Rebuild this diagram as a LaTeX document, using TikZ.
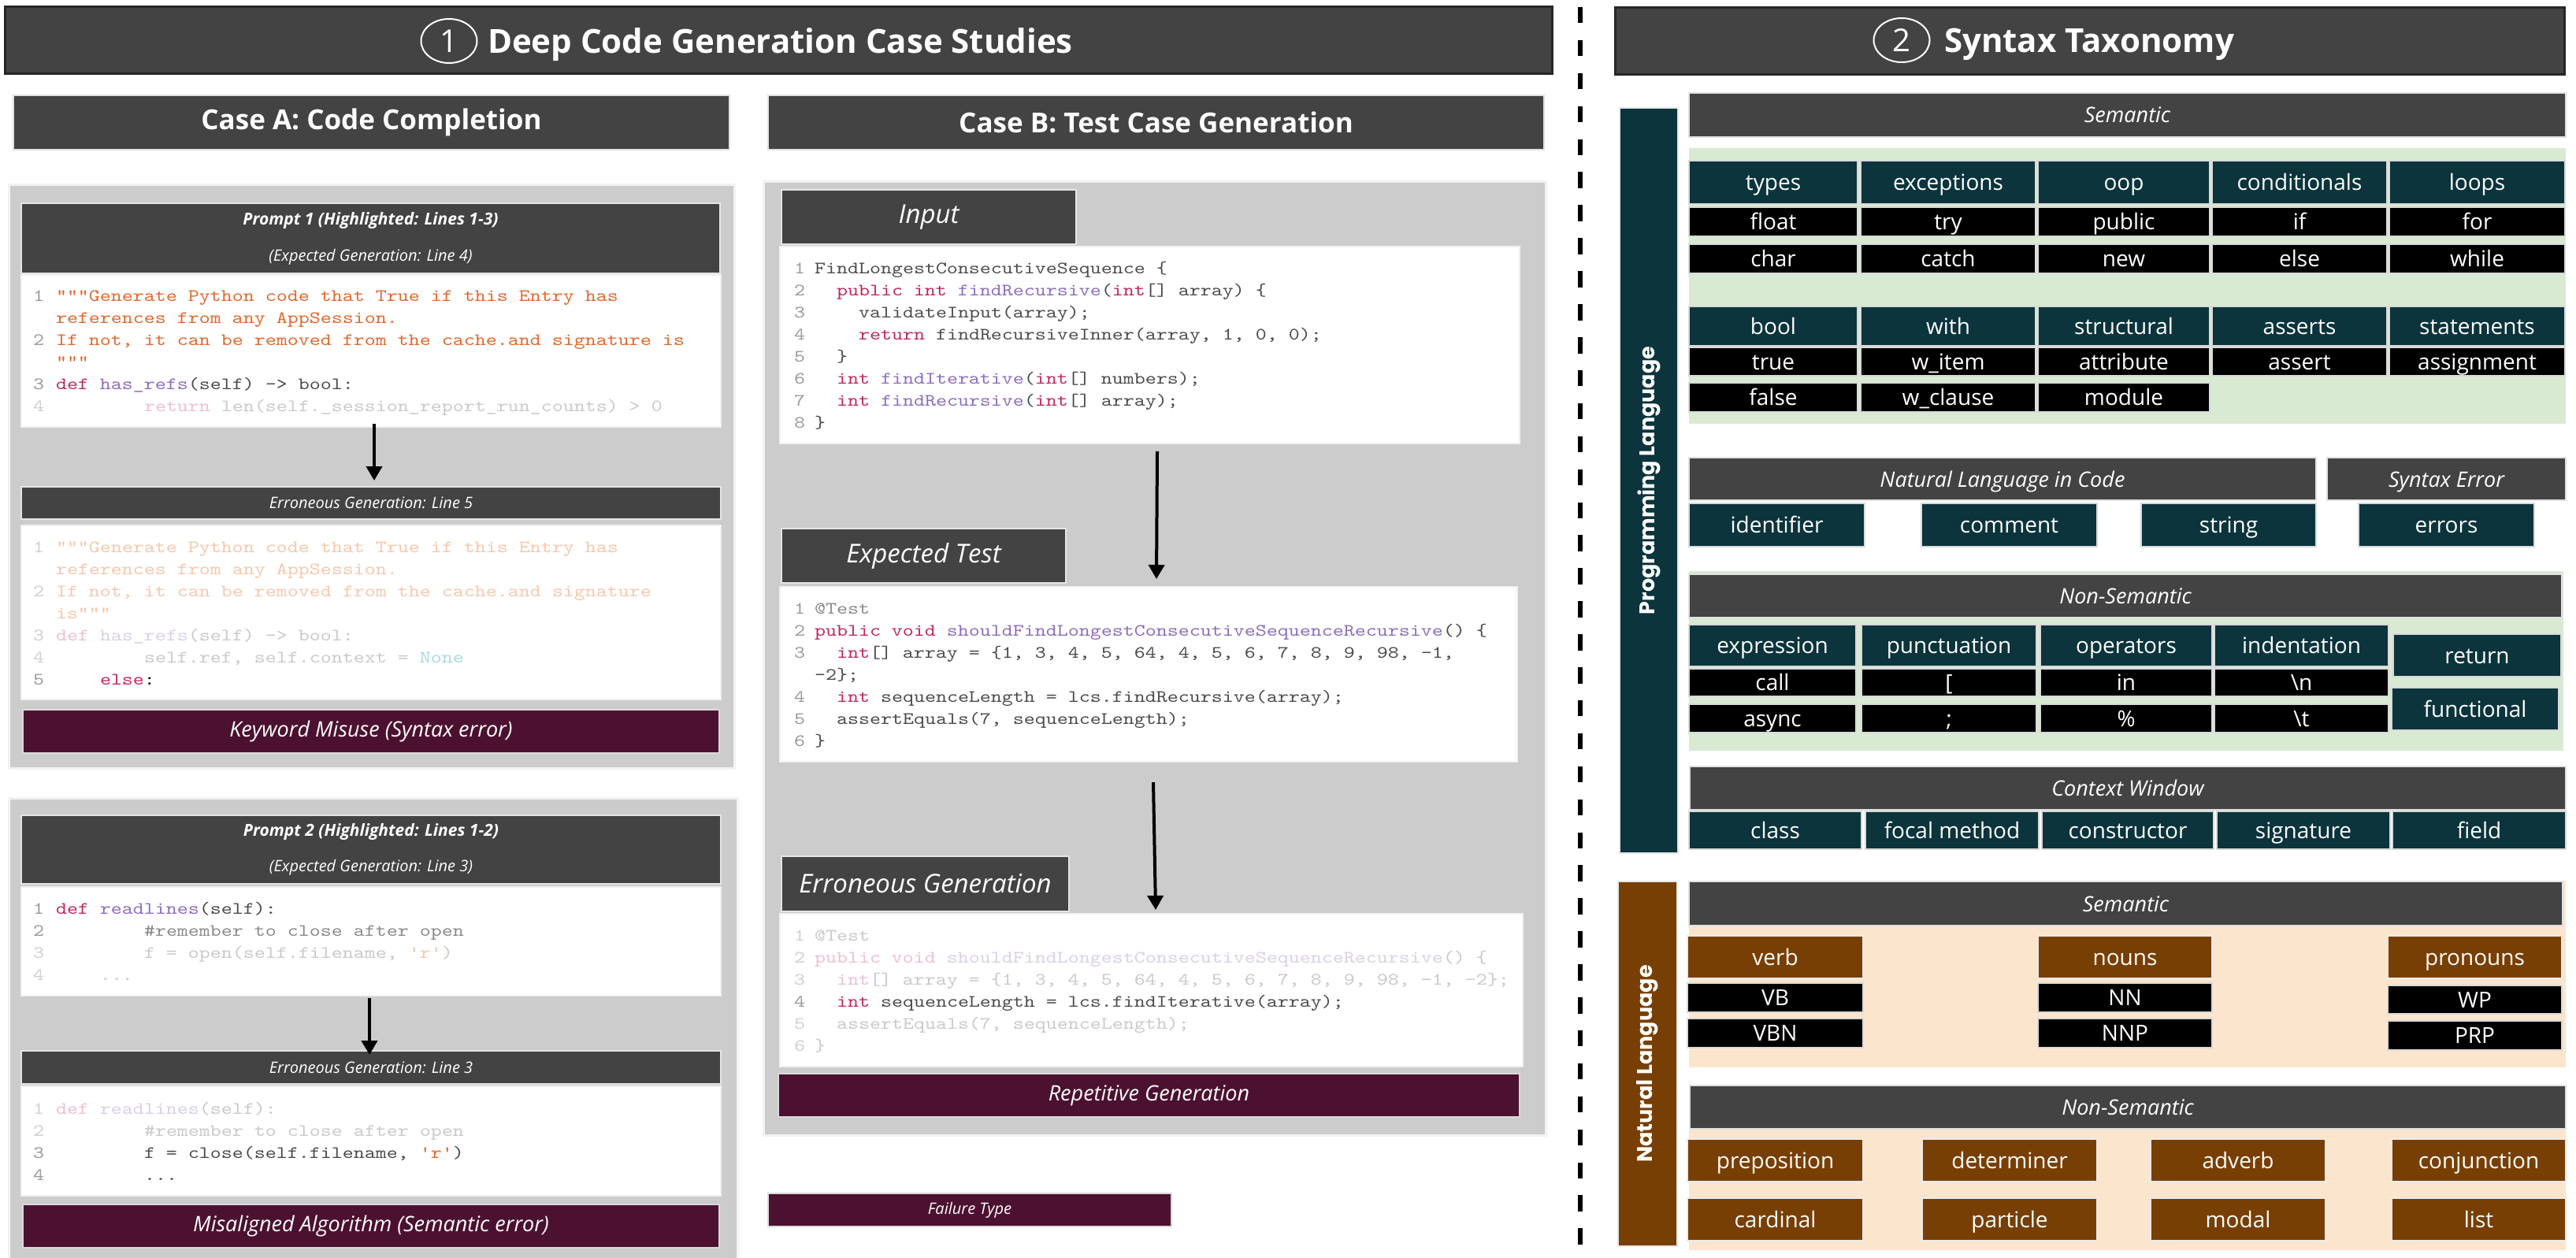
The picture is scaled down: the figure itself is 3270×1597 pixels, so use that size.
\documentclass[tikz,border=0pt]{standalone}
\usepackage{fontspec}
\setmainfont{Open Sans}
\newfontfamily\popfont{Poppins}
\newfontfamily\codefont[FakeStretch=1.212]{lmmono10-regular.otf}
\usetikzlibrary{arrows.meta,shapes.geometric}
\definecolor{hdrgray}{HTML}{434343}
\definecolor{panelgray}{HTML}{CCCCCC}
\definecolor{failred}{HTML}{4C1130}
\definecolor{tealc}{HTML}{0C343D}
\definecolor{brownc}{HTML}{783F04}
\definecolor{greenbg}{HTML}{D9EAD3}
\definecolor{peachbg}{HTML}{FCE5CD}
\definecolor{ckw}{HTML}{C2255C}
\definecolor{cfn}{HTML}{8C6BBF}
\definecolor{ctx}{HTML}{4A4A4A}
\definecolor{cstr}{HTML}{E2672B}
\definecolor{cln}{HTML}{9A9A9A}
\definecolor{ccm}{HTML}{8A8A8A}
\definecolor{fkw}{HTML}{EDBFD0}
\definecolor{ffn}{HTML}{D9CFEA}
\definecolor{ftx}{HTML}{C9C9C9}
\definecolor{fstr}{HTML}{F6C7AB}
\definecolor{fln}{HTML}{D0D0D0}
\definecolor{fnone}{HTML}{A8D8EA}
\newcommand\mkbox[7]{\node[#6,anchor=north west,minimum width={#4pt-#2pt},minimum height={#5pt-#3pt}] (#1) at (#2,#3) {#7};}
\newcommand\codeln[4]{\node[codetxt] (#1) at (#2,#3) {#4};}
\newcommand\Ck[1]{\textcolor{ckw}{#1}}
\newcommand\Cf[1]{\textcolor{cfn}{#1}}
\newcommand\Ct[1]{\textcolor{ctx}{#1}}
\newcommand\Cs[1]{\textcolor{cstr}{#1}}
\newcommand\Cc[1]{\textcolor{ccm}{#1}}
\newcommand\Fk[1]{\textcolor{fkw}{#1}}
\newcommand\Ff[1]{\textcolor{ffn}{#1}}
\newcommand\Ft[1]{\textcolor{ftx}{#1}}
\newcommand\Fs[1]{\textcolor{fstr}{#1}}
\begin{document}
\begin{tikzpicture}[x=1pt,y=-1pt,
  every node/.style={inner sep=0pt,outer sep=0pt},
  mainhdr/.style={fill=hdrgray,draw=black!85,line width=3pt},
  circ/.style={ellipse,draw=white,line width=2pt,minimum width=71pt,minimum height=56pt,text=white,font=\fontsize{40}{48}\selectfont},
  ttl/.style={anchor=base west,text=white,font=\fontsize{42}{50}\selectfont\bfseries},
  subhdr/.style={fill=hdrgray,draw=black!12,line width=2pt,text=white,font=\fontsize{35}{42}\selectfont\bfseries},
  panel/.style={fill=panelgray,draw=black!5,line width=3pt},
  hdr/.style={fill=hdrgray,draw=black!10,line width=1.5pt,text=white,font=\fontsize{20}{24}\selectfont\itshape},
  bighdr/.style={hdr,font=\fontsize{33}{40}\selectfont\itshape},
  codebox/.style={fill=white,draw=black!6,line width=1.5pt},
  fail/.style={fill=failred,draw=black!15,line width=1.5pt,text=white,font=\fontsize{27}{32}\selectfont\itshape},
  codetxt/.style={anchor=base west,inner sep=0pt,font=\codefont\fontsize{22}{26}\selectfont},
  arr/.style={line width=4pt,-{Triangle[length=18pt,width=20pt]}},
  dashline/.style={line width=6pt,dash pattern=on 20.5pt off 21.4pt},
  hdrtwo/.style={fill=hdrgray,draw=black!12,line width=1.5pt,text=white,font=\fontsize{27}{32}\selectfont\itshape,text height=26pt,text depth=6pt},
  lab/.style={text=white,font=\fontsize{28}{32}\selectfont,text height=26pt,text depth=6pt},
  teal/.style={lab,fill=tealc,draw=black!15,line width=1.5pt},
  blk/.style={lab,fill=black,draw=black!15,line width=1.5pt},
  brn/.style={lab,fill=brownc,draw=black!8,line width=1.5pt},
  gbg/.style={fill=greenbg},
  pbg/.style={fill=peachbg},
  vbar/.style={draw=black!10,line width=1.5pt},
  vtext/.style={rotate=90,text=white,font=\popfont\bfseries\fontsize{27}{32}\selectfont}
]
\useasboundingbox (0,0) rectangle (3270,1597);
\fill[white] (0,0) rectangle (3270,1597);

% ===== Titles =====
\mkbox{mh1}{6}{9}{1970}{94}{mainhdr}{}
\node[circ] (c1) at (570,52) {1};
\node[ttl] (t1) at (619,68) {Deep Code Generation Case Studies};
\mkbox{mh2}{2050}{10}{3255}{95}{mainhdr}{}
\node[circ] (c2) at (2414,51) {2};
\node[ttl] (t2) at (2468,67) {Syntax Taxonomy};

\coordinate (dtop) at (2006,9);
\coordinate (dbot) at (2006,1597);
\draw[dashline] (dtop) -- (dbot);

% ===== Case A =====
\mkbox{hA}{17}{121}{926}{190}{subhdr}{Case A: Code Completion}
\mkbox{pA1}{11}{235}{932}{975}{panel}{}
\mkbox{ph1}{27}{258}{914}{347}{hdr,align=center,font=\fontsize{20}{46}\selectfont\itshape}{{\bfseries\fontsize{21}{46}\selectfont Prompt 1 (Highlighted: Lines 1-3)}\\(Expected Generation: Line 4)}
\mkbox{cb1}{27}{349}{915}{542}{codebox}{}
\codeln{a1n}{42}{382}{\textcolor{cln}{1}}
\codeln{a1}{71}{382}{\Cs{"""Generate Python code that True if this Entry has}}
\codeln{a1c}{71}{410}{\Cs{references from any AppSession.}}
\codeln{a2n}{42}{438}{\textcolor{cln}{2}}
\codeln{a2}{71}{438}{\Cs{If not, it can be removed from the cache.and signature is}}
\codeln{a2c}{71}{466}{\Cs{"""}}
\codeln{a3n}{42}{494}{\textcolor{cln}{3}}
\codeln{a3}{71}{494}{\Ck{def} \Cf{has\_refs}\Ct{(self) -> bool:}}
\codeln{a4n}{42}{522}{\textcolor{fln}{4}}
\codeln{a4}{183}{522}{\Fk{return} \Ft{len(self.\_session\_report\_run\_counts) > 0}}
\mkbox{eh1}{27}{618}{915}{659}{hdr}{Erroneous Generation: Line 5}
\draw[arr] ([xshift=4pt,yshift=4pt]cb1.south) -- ([xshift=4pt,yshift=8pt]eh1.north);
\mkbox{cb2}{27}{667}{915}{888}{codebox}{}
\codeln{b1n}{42}{701}{\textcolor{fln}{1}}
\codeln{b1}{71}{701}{\Fs{"""Generate Python code that True if this Entry has}}
\codeln{b1c}{71}{729}{\Fs{references from any AppSession.}}
\codeln{b2n}{42}{757}{\textcolor{fln}{2}}
\codeln{b2}{71}{757}{\Fs{If not, it can be removed from the cache.and signature}}
\codeln{b2c}{71}{785}{\Fs{is"""}}
\codeln{b3n}{42}{813}{\textcolor{fln}{3}}
\codeln{b3}{71}{813}{\Fk{def} \Ff{has\_refs}\Ft{(self) -> bool:}}
\codeln{b4n}{42}{841}{\textcolor{fln}{4}}
\codeln{b4}{183}{841}{\Ft{self.ref, self.context =} \textcolor{fnone}{None}}
\codeln{b5n}{42}{869}{\textcolor{cln}{5}}
\codeln{b5}{127}{869}{\Ck{else}\textcolor{black}{:}}
\mkbox{fA1}{29}{901}{913}{956}{fail}{Keyword Misuse (Syntax error)}

\mkbox{pA2}{11}{1013}{936}{1605}{panel}{}
\mkbox{ph2}{27}{1035}{915}{1122}{hdr,align=center,font=\fontsize{20}{45}\selectfont\itshape}{{\bfseries\fontsize{21}{45}\selectfont Prompt 2 (Highlighted: Lines 1-2)}\\(Expected Generation: Line 3)}
\mkbox{cb3}{27}{1126}{915}{1264}{codebox}{}
\codeln{c1n}{42}{1160}{\textcolor{cln}{1}}
\codeln{c1}{71}{1160}{\Ck{def} \Cf{readlines}\Ct{(self):}}
\codeln{c2n}{42}{1188}{\textcolor{cln}{2}}
\codeln{c2}{183}{1188}{\Cc{\#remember to close after open}}
\codeln{c3n}{42}{1216}{\textcolor{fln}{3}}
\codeln{c3}{183}{1216}{\Ft{f = open(self.filename,} \Fs{'r'}\Ft{)}}
\codeln{c4n}{42}{1244}{\textcolor{fln}{4}}
\codeln{c4}{127}{1244}{\Ft{...}}
\mkbox{eh2}{27}{1334}{915}{1376}{hdr}{Erroneous Generation: Line 3}
\draw[arr] ([xshift=-2pt,yshift=-3pt]cb3.south) -- ([xshift=-2pt,yshift=-5pt]eh2.north);
\mkbox{cb4}{27}{1379}{915}{1518}{codebox}{}
\codeln{d1n}{42}{1414}{\textcolor{fln}{1}}
\codeln{d1}{71}{1414}{\Fk{def} \Ff{readlines}\Ft{(self):}}
\codeln{d2n}{42}{1442}{\textcolor{fln}{2}}
\codeln{d2}{183}{1442}{\Ft{\#remember to close after open}}
\codeln{d3n}{42}{1470}{\textcolor{cln}{3}}
\codeln{d3}{183}{1470}{\Ct{f = close(self.filename,} \Cs{'r'}\Ct{)}}
\codeln{d4n}{42}{1498}{\textcolor{cln}{4}}
\codeln{d4}{183}{1498}{\Ct{...}}
\mkbox{fA2}{29}{1529}{913}{1584}{fail}{Misaligned Algorithm (Semantic error)}

% ===== Case B =====
\mkbox{hB}{975}{121}{1960}{190}{subhdr}{Case B: Test Case Generation}
\mkbox{pB}{969}{231}{1962}{1441}{panel}{}
\mkbox{ihB}{992}{241}{1366}{310}{bighdr}{Input}
\mkbox{cbI}{990}{313}{1929}{563}{codebox}{}
\codeln{i1n}{1008}{347}{\textcolor{cln}{1}}
\codeln{i1}{1034}{347}{\Ct{FindLongestConsecutiveSequence \{}}
\codeln{i2n}{1008}{375}{\textcolor{cln}{2}}
\codeln{i2}{1062}{375}{\Ck{public int} \Cf{findRecursive}\Ct{(}\Ck{int}\Ct{[] array) \{}}
\codeln{i3n}{1008}{403}{\textcolor{cln}{3}}
\codeln{i3}{1090}{403}{\Ct{validateInput(array);}}
\codeln{i4n}{1008}{431}{\textcolor{cln}{4}}
\codeln{i4}{1090}{431}{\Ck{return} \Ct{findRecursiveInner(array, 1, 0, 0);}}
\codeln{i5n}{1008}{459}{\textcolor{cln}{5}}
\codeln{i5}{1062}{459}{\Ct{\}}}
\codeln{i6n}{1008}{487}{\textcolor{cln}{6}}
\codeln{i6}{1062}{487}{\Ck{int} \Cf{findIterative}\Ct{(}\Ck{int}\Ct{[] numbers);}}
\codeln{i7n}{1008}{515}{\textcolor{cln}{7}}
\codeln{i7}{1062}{515}{\Ck{int} \Cf{findRecursive}\Ct{(}\Ck{int}\Ct{[] array);}}
\codeln{i8n}{1008}{543}{\textcolor{cln}{8}}
\codeln{i8}{1034}{543}{\Ct{\}}}
\mkbox{ehB}{992}{671}{1353}{740}{bighdr}{Expected Test}
\mkbox{cbE}{990}{745}{1926}{967}{codebox}{}
\draw[arr] ([xshift=9.5pt,yshift=-10pt]cbI.south) -- ([xshift=10pt,yshift=10pt]cbE.north);
\codeln{e1n}{1008}{779}{\textcolor{cln}{1}}
\codeln{e1}{1034}{779}{\Cc{@Test}}
\codeln{e2n}{1008}{807}{\textcolor{cln}{2}}
\codeln{e2}{1034}{807}{\Ck{public void} \Cf{shouldFindLongestConsecutiveSequenceRecursive}\Ct{() \{}}
\codeln{e3n}{1008}{835}{\textcolor{cln}{3}}
\codeln{e3}{1062}{835}{\Ck{int}\Ct{[] array = \{1, 3, 4, 5, 64, 4, 5, 6, 7, 8, 9, 98, -1,}}
\codeln{e3c}{1034}{863}{\Ct{-2\};}}
\codeln{e4n}{1008}{891}{\textcolor{cln}{4}}
\codeln{e4}{1062}{891}{\Ck{int} \Ct{sequenceLength = lcs.findRecursive(array);}}
\codeln{e5n}{1008}{919}{\textcolor{cln}{5}}
\codeln{e5}{1062}{919}{\Ct{assertEquals(7, sequenceLength);}}
\codeln{e6n}{1008}{947}{\textcolor{cln}{6}}
\codeln{e6}{1034}{947}{\Ct{\}}}
\mkbox{ghB}{992}{1087}{1357}{1157}{bighdr}{Erroneous Generation}
\mkbox{cbG}{990}{1160}{1933}{1354}{codebox}{}
\draw[arr] ([xshift=6pt,yshift=-26pt]cbE.south) -- ([xshift=5.5pt,yshift=5pt]cbG.north);
\codeln{g1n}{1008}{1194}{\textcolor{fln}{1}}
\codeln{g1}{1034}{1194}{\Ft{@Test}}
\codeln{g2n}{1008}{1222}{\textcolor{fln}{2}}
\codeln{g2}{1034}{1222}{\Fk{public void} \Ff{shouldFindLongestConsecutiveSequenceRecursive}\Ft{() \{}}
\codeln{g3n}{1008}{1250}{\textcolor{fln}{3}}
\codeln{g3}{1062}{1250}{\Fk{int}\Ft{[] array = \{1, 3, 4, 5, 64, 4, 5, 6, 7, 8, 9, 98, -1, -2\};}}
\codeln{g4n}{1008}{1278}{\textcolor{cln}{4}}
\codeln{g4}{1062}{1278}{\Ck{int} \Ct{sequenceLength = lcs.findIterative(array);}}
\codeln{g5n}{1008}{1306}{\textcolor{fln}{5}}
\codeln{g5}{1062}{1306}{\Ft{assertEquals(7, sequenceLength);}}
\codeln{g6n}{1008}{1334}{\textcolor{fln}{6}}
\codeln{g6}{1034}{1334}{\Ft{\}}}
\mkbox{fB}{988}{1363}{1929}{1418}{fail}{Repetitive Generation}
\mkbox{fType}{975}{1515}{1487}{1557}{fail,font=\fontsize{20}{24}\selectfont\itshape}{Failure Type}

% ===== Syntax taxonomy: Programming Language =====
\mkbox{plbar}{2056}{137}{2130}{1083}{vbar,fill=tealc}{}
\node[vtext] (pltext) at (plbar.center) {Programming Language};
\mkbox{semH}{2144}{118}{3257}{174}{hdrtwo}{Semantic}
\mkbox{gA}{2144}{188}{3257}{538}{gbg}{}
\mkbox{s11}{2144}{204}{2358}{259}{teal}{types}
\mkbox{s12}{2362}{204}{2584}{259}{teal}{exceptions}
\mkbox{s13}{2587}{204}{2805}{259}{teal}{oop}
\mkbox{s14}{2808}{204}{3030}{259}{teal}{conditionals}
\mkbox{s15}{3033}{204}{3256}{259}{teal}{loops}
\mkbox{s21}{2144}{263}{2358}{300}{blk}{float}
\mkbox{s22}{2362}{263}{2584}{300}{blk}{try}
\mkbox{s23}{2587}{263}{2805}{300}{blk}{public}
\mkbox{s24}{2808}{263}{3030}{300}{blk}{if}
\mkbox{s25}{3033}{263}{3256}{300}{blk}{for}
\mkbox{s31}{2144}{310}{2358}{347}{blk}{char}
\mkbox{s32}{2362}{310}{2584}{347}{blk}{catch}
\mkbox{s33}{2587}{310}{2805}{347}{blk}{new}
\mkbox{s34}{2808}{310}{3030}{347}{blk}{else}
\mkbox{s35}{3033}{310}{3256}{347}{blk}{while}
\mkbox{s41}{2144}{389}{2358}{439}{teal}{bool}
\mkbox{s42}{2362}{389}{2584}{439}{teal}{with}
\mkbox{s43}{2587}{389}{2805}{439}{teal}{structural}
\mkbox{s44}{2808}{389}{3030}{439}{teal}{asserts}
\mkbox{s45}{3033}{389}{3256}{439}{teal}{statements}
\mkbox{s51}{2144}{441}{2358}{477}{blk}{true}
\mkbox{s52}{2362}{441}{2584}{477}{blk}{w\_item}
\mkbox{s53}{2587}{441}{2805}{477}{blk}{attribute}
\mkbox{s54}{2808}{441}{3030}{477}{blk}{assert}
\mkbox{s55}{3033}{441}{3256}{477}{blk}{assignment}
\mkbox{s61}{2144}{486}{2358}{523}{blk}{false}
\mkbox{s62}{2362}{486}{2584}{523}{blk}{w\_clause}
\mkbox{s63}{2587}{486}{2805}{523}{blk}{module}

\mkbox{nlcH}{2144}{581}{2940}{635}{hdrtwo}{Natural Language in Code}
\mkbox{seH}{2954}{581}{3257}{635}{hdrtwo}{Syntax Error}
\mkbox{n1}{2144}{639}{2367}{694}{teal}{identifier}
\mkbox{n2}{2439}{639}{2662}{694}{teal}{comment}
\mkbox{n3}{2718}{639}{2940}{694}{teal}{string}
\mkbox{n4}{2994}{639}{3217}{694}{teal}{errors}

\mkbox{gB}{2144}{725}{3254}{953}{gbg}{}
\mkbox{nsH}{2144}{729}{3252}{784}{hdrtwo}{Non-Semantic}
\mkbox{x11}{2144}{793}{2356}{846}{teal}{expression}
\mkbox{x12}{2363}{793}{2585}{846}{teal}{punctuation}
\mkbox{x13}{2590}{793}{2808}{846}{teal}{operators}
\mkbox{x14}{2811}{793}{3032}{846}{teal}{indentation}
\mkbox{x21}{2144}{849}{2356}{884}{blk}{call}
\mkbox{x22}{2363}{849}{2585}{884}{blk}{[}
\mkbox{x23}{2590}{849}{2808}{884}{blk}{in}
\mkbox{x24}{2811}{849}{3032}{884}{blk}{\textbackslash n}
\mkbox{x31}{2144}{894}{2356}{930}{blk}{async}
\mkbox{x32}{2363}{894}{2585}{930}{blk}{;}
\mkbox{x33}{2590}{894}{2808}{930}{blk}{\%}
\mkbox{x34}{2811}{894}{3032}{930}{blk}{\textbackslash t}
\mkbox{x15}{3038}{805}{3251}{859}{teal}{return}
\mkbox{x25}{3036}{873}{3248}{927}{teal}{functional}

\mkbox{cwH}{2145}{973}{3257}{1028}{hdrtwo}{Context Window}
\mkbox{w1}{2144}{1030}{2363}{1078}{teal}{class}
\mkbox{w2}{2368}{1030}{2588}{1078}{teal}{focal method}
\mkbox{w3}{2592}{1030}{2810}{1078}{teal}{constructor}
\mkbox{w4}{2814}{1030}{3034}{1078}{teal}{signature}
\mkbox{w5}{3037}{1030}{3257}{1078}{teal}{field}

% ===== Natural Language =====
\mkbox{nlbar}{2054}{1119}{2129}{1582}{vbar,fill=brownc}{}
\node[vtext] (nltext) at (nlbar.center) {Natural Language};
\mkbox{pe1}{2144}{1118}{3257}{1355}{pbg}{}
\mkbox{semH2}{2144}{1119}{3253}{1175}{hdrtwo}{Semantic}
\mkbox{v1}{2142}{1188}{2365}{1242}{brn}{verb}
\mkbox{v2}{2587}{1188}{2808}{1242}{brn}{nouns}
\mkbox{v3}{3031}{1188}{3252}{1242}{brn}{pronouns}
\mkbox{v4}{2142}{1248}{2365}{1285}{blk}{VB}
\mkbox{v5}{2587}{1248}{2808}{1285}{blk}{NN}
\mkbox{v6}{3031}{1251}{3252}{1287}{blk}{WP}
\mkbox{v7}{2142}{1293}{2365}{1330}{blk}{VBN}
\mkbox{v8}{2587}{1293}{2808}{1330}{blk}{NNP}
\mkbox{v9}{3031}{1296}{3252}{1333}{blk}{PRP}
\mkbox{pe2}{2144}{1377}{3257}{1587}{pbg}{}
\mkbox{nsH2}{2145}{1378}{3257}{1433}{hdrtwo}{Non-Semantic}
\mkbox{q1}{2142}{1446}{2365}{1500}{brn}{preposition}
\mkbox{q2}{2440}{1446}{2662}{1500}{brn}{determiner}
\mkbox{q3}{2730}{1446}{2952}{1500}{brn}{adverb}
\mkbox{q4}{3036}{1446}{3257}{1500}{brn}{conjunction}
\mkbox{q5}{2142}{1521}{2365}{1575}{brn}{cardinal}
\mkbox{q6}{2440}{1521}{2662}{1575}{brn}{particle}
\mkbox{q7}{2730}{1521}{2952}{1575}{brn}{modal}
\mkbox{q8}{3036}{1521}{3257}{1575}{brn}{list}
\end{tikzpicture}
\end{document}
